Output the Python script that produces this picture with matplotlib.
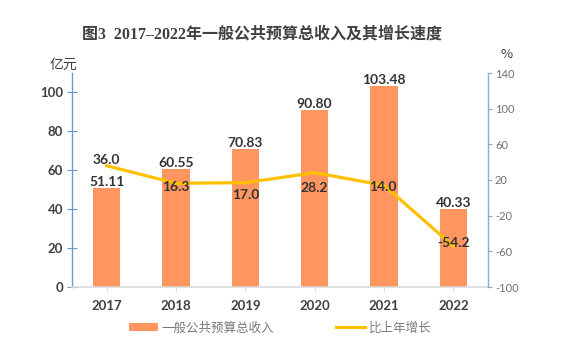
import matplotlib
matplotlib.use("Agg")
import matplotlib.pyplot as plt
import numpy as np
from matplotlib.patches import Patch
from matplotlib.lines import Line2D

years = ["2017", "2018", "2019", "2020", "2021", "2022"]
revenue = [51.11, 60.55, 70.83, 90.80, 103.48, 40.33]
growth = [36.0, 16.3, 17.0, 28.2, 14.0, -54.2]
left_ticks = [0, 20, 40, 60, 80, 100]
right_ticks = [-100, -60, -20, 20, 60, 100, 140]

CJK = ["Lato", "Noto Sans CJK SC", "DejaVu Sans"]
plt.rcParams["font.family"] = CJK

BAR = "#FF965F"
LINE = "#FFC000"
DARK = "#404040"

fig = plt.figure(figsize=(5.68, 3.53), dpi=100)
ax = fig.add_axes([72/568, 66/353, 416/568, 214/353])
ax2 = ax.twinx()

x = np.arange(len(years))
ax.bar(x, revenue, width=0.39, color=BAR, zorder=2)
ax.set_xlim(-0.5, 5.5)
ax.set_ylim(0, 110)
ax.set_yticks(left_ticks)
ax.set_yticklabels([str(v) for v in left_ticks], fontsize=9.5, fontweight="bold", color=DARK)
ax.set_xticks(x)
ax.set_xticklabels(years, fontsize=9.5, fontweight="bold", color=DARK)

ax.spines["top"].set_visible(False)
ax.spines["right"].set_visible(False)
ax2.spines["top"].set_visible(False)
ax2.spines["left"].set_visible(False)
ax2.spines["bottom"].set_visible(False)
ax.spines["left"].set_color("#6A9BCB")
ax.spines["left"].set_linewidth(1.0)
ax.spines["bottom"].set_color("#D9D9D9")
ax.spines["bottom"].set_linewidth(1.2)
ax.tick_params(axis="y", direction="inout", length=7, color="#6A9BCB", pad=3)
ax.tick_params(axis="x", direction="out", length=3, color="#D9D9D9", pad=6)

ax2.plot(x, growth, color=LINE, linewidth=2.3, zorder=3)
ax2.set_ylim(-100, 140)
ax2.set_yticks(right_ticks)
ax2.set_yticklabels([str(v) for v in right_ticks], fontsize=8, color="#707070")
ax2.spines["right"].set_color("#8FAACB")
ax2.spines["right"].set_linewidth(1.0)
ax2.tick_params(axis="y", direction="out", length=3, color="#8FAACB", pad=2)

for xi, v in zip(x, revenue):
    ax.annotate(f"{v:.2f}", (xi, v), xytext=(0, 0), textcoords="offset points",
                ha="center", va="bottom", fontsize=10, fontweight="bold", color="#333333")

offsets = [(0, 6), (0, -4), (0, -12), (0, -15), (-1, -2), (0, 3)]
for xi, v, off in zip(x, growth, offsets):
    ax2.annotate(f"{v:.1f}", (xi, v), xytext=off, textcoords="offset pixels",
                 ha="center", va="center", fontsize=10, fontweight="bold", color="#333333", zorder=4)

fig.text(262/568, 1 - 35/353, "图3  2017–2022年一般公共预算总收入及其增长速度",
         ha="center", va="center", fontsize=11.5, fontweight="bold", color="#404040",
         family=["Liberation Serif", "Noto Sans CJK SC"])
fig.text(63/568, 1 - 65/353, "亿元", ha="center", va="center", fontsize=10,
         color=DARK, family=["Noto Sans CJK SC"])
fig.text(507/568, 1 - 54/353, "%", ha="center", va="center", fontsize=9.5,
         color=DARK, family=["Noto Sans CJK SC"])

handles = [Patch(facecolor=BAR, edgecolor="none"),
           Line2D([0], [0], color=LINE, linewidth=2.3)]
fig.legend(handles, ["一般公共预算总收入", "比上年增长"], loc="center",
           bbox_to_anchor=(280/568, 1 - 328/353), ncol=2, frameon=False,
           prop={"family": ["Noto Sans CJK SC"], "size": 9, "weight": "light"},
           labelcolor="#7a7a7a", handlelength=2.3, handleheight=0.6,
           handletextpad=0.3, columnspacing=5.0)

fig.savefig("out.png", dpi=100, facecolor="white")
